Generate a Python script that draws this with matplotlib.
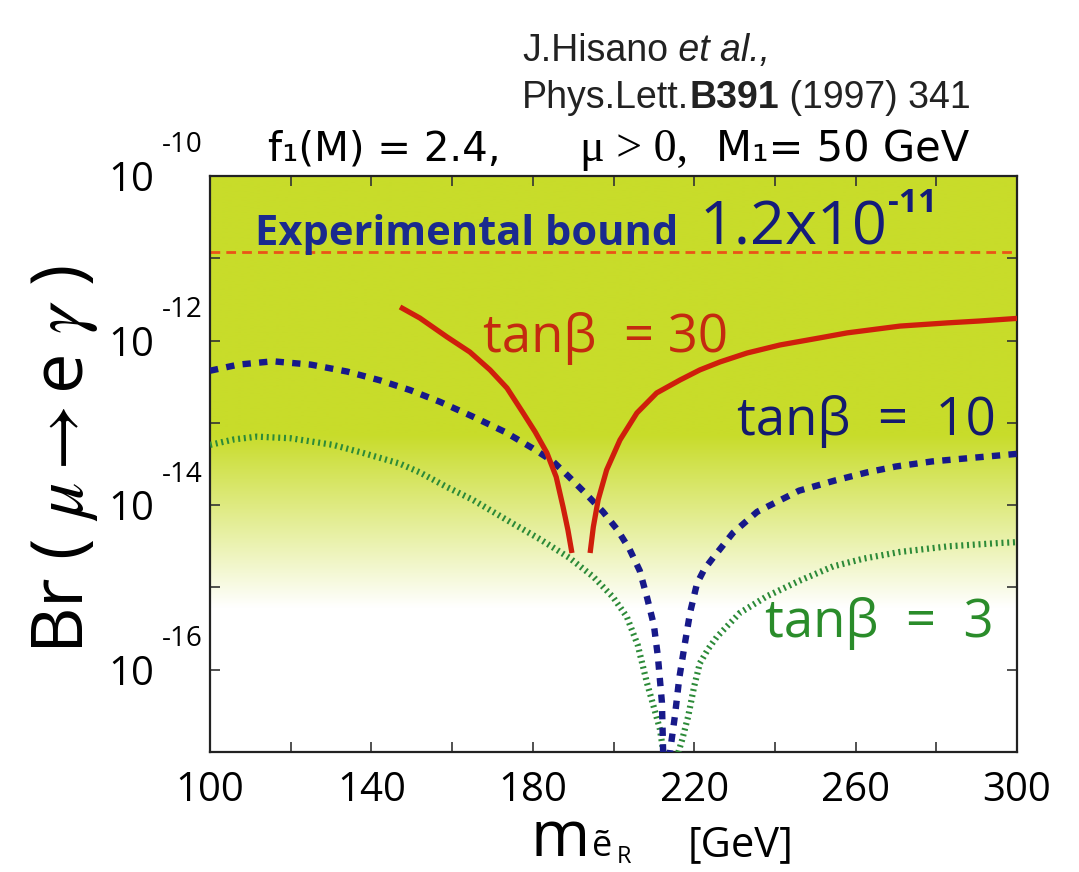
import numpy as np
import matplotlib.pyplot as plt
from matplotlib.ticker import FixedLocator, NullFormatter, FixedFormatter
from matplotlib.colors import to_rgb

plt.rcParams['mathtext.fontset'] = 'stix'
SANS = ['Open Sans', 'DejaVu Sans']

# tan(beta) = 30, solid red, two branches around the cancellation
m30_left = [147.1, 152.0, 158.7, 164.4, 169.4, 173.6, 177.6, 180.6, 183.5, 185.8,
            187.5, 188.7, 189.7]
br30_left = [2.56e-12, 1.88e-12, 1.11e-12, 7.26e-13, 4.40e-13, 2.65e-13, 1.32e-13,
             7.74e-14, 4.31e-14, 2.20e-14, 9.5e-15, 5.0e-15, 2.62e-15]
m30_right = [194.2, 195.0, 196.2, 198.3, 201.6, 205.8, 210.7, 216.5, 221.4, 226.4,
             233.1, 241.3, 251.2, 257.9, 271.0, 282.7, 290.8, 300.0]
br30_right = [2.62e-15, 5.43e-15, 1.16e-14, 2.68e-14, 6.19e-14, 1.32e-13, 2.31e-13,
              3.32e-13, 4.40e-13, 5.50e-13, 7.06e-13, 8.85e-13, 1.08e-12, 1.24e-12,
              1.50e-12, 1.64e-12, 1.73e-12, 1.86e-12]

# tan(beta) = 10, blue square dots
m10 = [100, 107, 115.6, 125, 134, 142, 149.6, 157, 165, 173, 180, 185, 189, 193, 197.4,
       201, 204, 206.5, 208.3, 210, 211, 212, 212.8, 214, 215.2, 216.3, 217.7, 219,
       220.7, 222.5, 224.7, 229.6, 235.6, 246, 255, 262.8, 270, 279, 290, 300]
br10 = [4.3e-13, 5.1e-13, 5.6e-13, 5.1e-13, 4.2e-13, 3.3e-13, 2.5e-13, 1.8e-13, 1.2e-13,
        7.8e-14, 4.9e-14, 3.4e-14, 2.2e-14, 1.4e-14, 8.3e-15, 5.0e-15, 2.9e-15, 1.6e-15,
        7.6e-16, 3.5e-16, 1.45e-16, 4.0e-17, 1.0e-18, 1.0e-17, 2.7e-17, 7.9e-17, 2.1e-16,
        5.0e-16, 1.12e-15, 1.66e-15, 2.3e-15, 4.6e-15, 8.3e-15, 1.5e-14, 2.0e-14, 2.5e-14,
        2.95e-14, 3.4e-14, 3.8e-14, 4.2e-14]

# tan(beta) = 3, green dotted
m3 = [100, 106, 111.6, 120, 130.5, 138, 147, 152, 158.7, 165, 175, 182, 189, 195, 199.9,
      203.3, 206, 208.3, 210, 211.5, 213.3, 214, 215.5, 217, 218.5, 220, 221.4, 223.5,
      225.6, 231.3, 238, 246, 254.4, 262, 271, 283, 295.8, 300]
br3 = [5.4e-14, 6.3e-14, 6.8e-14, 6.5e-14, 5.4e-14, 4.3e-14, 3.2e-14, 2.5e-14, 1.66e-14,
       1.17e-14, 6.0e-15, 3.8e-15, 2.3e-15, 1.35e-15, 7.6e-16, 4.4e-16, 2.0e-16, 6.9e-17,
       3.5e-17, 1.9e-17, 5.0e-18, 1.0e-18, 8.0e-18, 1.4e-17, 2.7e-17, 6.3e-17, 1.2e-16,
       1.8e-16, 2.5e-16, 4.9e-16, 7.8e-16, 1.2e-15, 1.8e-15, 2.24e-15, 2.7e-15, 3.16e-15,
       3.47e-15, 3.55e-15]

exp_bound = 1.2e-11

x_major = [100, 140, 180, 220, 260, 300]
x_minor = [120, 160, 200, 240, 280]
y_major = [1e-16, 1e-14, 1e-12, 1e-10]
y_minor = [1e-17, 1e-15, 1e-13, 1e-11]
y_exp = ['-16', '-14', '-12', '-10']

green = np.array(to_rgb('#c8dc2a'))
white = np.ones(3)

fig = plt.figure(figsize=(10.79, 8.72), dpi=100)
ax = fig.add_axes([210 / 1079, 1 - 752 / 872, (1017 - 210) / 1079, (752 - 176) / 872])

# background shading: solid yellow-green, fading to white towards small Br
ylog = np.linspace(-17, -10, 500)
f = np.clip((ylog + 15.25) / 2.1, 0, 1)[:, None, None]
img = white * (1 - f) + green * f
ax.imshow(img, extent=[0, 1, 0, 1], transform=ax.transAxes, origin='lower',
          aspect='auto', zorder=0, interpolation='bilinear')

ax.axhline(exp_bound, color='#ea5418', lw=2.0, ls=(0, (3.5, 2.2)), zorder=2)
ax.plot(m3, br3, color='#2c8a38', lw=4.5, ls=(0, (0.32, 0.6)), dash_capstyle='butt', zorder=3)
ax.plot(m10, br10, color='#17198a', lw=4.6, ls=(0, (1.3, 1.3)), dash_capstyle='butt', zorder=4)
ax.plot(m30_left, br30_left, color='#cf1e0c', lw=3.8, solid_capstyle='butt', zorder=5)
ax.plot(m30_right, br30_right, color='#cf1e0c', lw=3.8, solid_capstyle='butt', zorder=5)

ax.set_yscale('log')
ax.set_xlim(100, 300)
ax.set_ylim(1e-17, 1e-10)

ax.xaxis.set_major_locator(FixedLocator(x_major))
ax.xaxis.set_minor_locator(FixedLocator(x_minor))
ax.yaxis.set_major_locator(FixedLocator(y_major))
ax.yaxis.set_minor_locator(FixedLocator(y_minor))
ax.yaxis.set_major_formatter(FixedFormatter(['10'] * len(y_major)))
ax.yaxis.set_minor_formatter(NullFormatter())
ax.tick_params(which='both', direction='in', length=7, width=1.2, top=True, right=True,
               color='#333333')
ax.tick_params(axis='x', which='major', pad=13, labelsize=29)
ax.tick_params(axis='y', which='major', pad=40, labelsize=29)
for lab in ax.get_xticklabels() + ax.get_yticklabels():
    lab.set_family(SANS)
for s in ax.spines.values():
    s.set_linewidth(1.6)
    s.set_color('#222222')

for v, e in zip(y_major, y_exp):
    ax.annotate(e, xy=(0, v), xycoords=('axes fraction', 'data'), xytext=(-5, 22),
                textcoords='offset points', ha='right', va='center', fontsize=20,
                family=SANS)

# in-plot labels
ax.text(111.2, 1.45e-11, 'Experimental bound', color='#1a2a8e', fontsize=30,
        fontweight='bold', family=SANS, va='baseline', ha='left')
ax.text(221.4, 1.49e-11, '1.2x10', color='#141c7a', fontsize=44, family=SANS,
        va='baseline', ha='left')
ax.text(268.0, 3.65e-11, '-11', color='#141c7a', fontsize=24, fontweight='bold',
        family=SANS, va='baseline', ha='left')
ax.text(167.7, 7.2e-13, 'tanβ  = 30', color='#c42a10', fontsize=38, family=SANS,
        va='baseline', ha='left')
ax.text(230.6, 7.1e-14, 'tanβ  =  10', color='#141a6e', fontsize=38, family=SANS,
        va='baseline', ha='left')
ax.text(237.5, 2.5e-16, 'tanβ  =  3', color='#2a8c2a', fontsize=38, family=SANS,
        va='baseline', ha='left')

# title line
tkw = dict(fontsize=29, family='DejaVu Sans', va='baseline')
fig.text(268 / 1079, 1 - 161 / 872, 'f₁(M) = 2.4,', **tkw)
fig.text(580 / 1079, 1 - 161 / 872, 'μ > 0,', fontsize=33,
         family=['Liberation Serif', 'DejaVu Serif'], va='baseline')
fig.text(716 / 1079, 1 - 161 / 872, 'M₁= 50 GeV', fontsize=30, family='DejaVu Sans',
         va='baseline')

# citation
cite = dict(fontsize=27, family='Liberation Sans', color='#222222')
c1 = fig.text(522 / 1079, 1 - 61 / 872, 'J.Hisano', va='baseline', **cite)
ax.annotate(' et al.,', xy=(1, 0), xycoords=c1, va='bottom', ha='left',
            fontstyle='italic', annotation_clip=False, **cite)
c2 = fig.text(522 / 1079, 1 - 108 / 872, 'Phys.Lett.', va='baseline', **cite)
c3 = ax.annotate('B391', xy=(1, 0), xycoords=c2, va='bottom', ha='left',
                 fontweight='bold', annotation_clip=False, **cite)
ax.annotate(' (1997) 341', xy=(1, 0), xycoords=c3, va='bottom', ha='left',
            annotation_clip=False, **cite)

# axis labels
fig.text(64 / 1079, 1 - 460 / 872, 'Br ( $\\mu$$\\rightarrow$e $\\gamma$ )', rotation=90,
         fontsize=52, family=SANS, ha='center', va='center')
fig.text(530 / 1079, 1 - 856 / 872, 'm', fontsize=46, family=SANS, va='baseline')
fig.text(592 / 1079, 1 - 856 / 872, 'ẽ', fontsize=26, family=SANS, va='baseline')
fig.text(617 / 1079, 1 - 863 / 872, 'R', fontsize=17, family=SANS, va='baseline')
fig.text(688 / 1079, 1 - 856 / 872, '[GeV]', fontsize=30, family=SANS, va='baseline')

plt.savefig('out.png', dpi=100)
